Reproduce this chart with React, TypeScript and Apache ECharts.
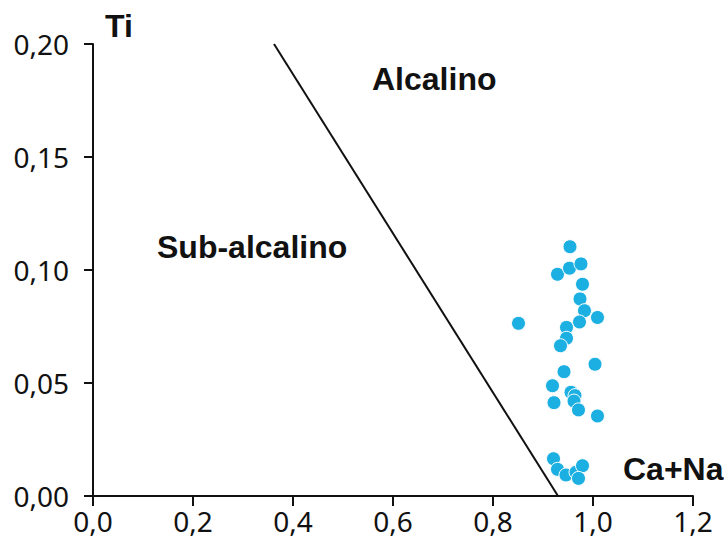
import React, { useEffect, useRef } from "react";
import * as echarts from "echarts";

const caNa = [0.954, 0.929, 0.953, 0.976, 0.979, 0.974, 0.983, 1.009, 0.973, 0.851, 0.947, 0.947, 0.935, 1.004, 0.942, 0.919, 0.956, 0.964, 0.962, 0.922, 0.971, 1.009, 0.921, 0.929, 0.946, 0.966, 0.979, 0.971];
const ti = [0.1103, 0.0981, 0.1008, 0.1027, 0.0937, 0.0872, 0.082, 0.079, 0.077, 0.0764, 0.0746, 0.0698, 0.0665, 0.0583, 0.055, 0.0488, 0.0459, 0.0444, 0.042, 0.0413, 0.0381, 0.0354, 0.0165, 0.0118, 0.0093, 0.0105, 0.0134, 0.0078];
const boundaryX = [0.362, 0.93];
const boundaryY = [0.2, 0.0];
const xTicks = [0, 0.2, 0.4, 0.6, 0.8, 1.0, 1.2];
const yTicks = [0, 0.05, 0.1, 0.15, 0.2];

export default function App() {
  const ref = useRef<HTMLDivElement>(null);
  useEffect(() => {
    if (!ref.current) return;
    const chart = echarts.init(ref.current, null, { renderer: "svg" });
    const labelFont = { fontFamily: "Noto Sans", fontSize: 28, color: "#111" };
    const boldFont = { fontFamily: "Liberation Sans", fontWeight: "bold" as const, fontSize: 32, fill: "#111" };
    chart.setOption({
      animation: false,
      backgroundColor: "#fff",
      grid: { left: 93, right: 31, top: 44, bottom: 62, outerBoundsMode: "none", containLabel: false },
      xAxis: {
        type: "value",
        min: xTicks[0],
        max: xTicks[xTicks.length - 1],
        interval: 0.2,
        splitLine: { show: false },
        axisLine: { show: true, onZero: false, lineStyle: { color: "#111", width: 2 } },
        axisTick: { show: true, length: 10, lineStyle: { color: "#111", width: 2 } },
        axisLabel: { ...labelFont, margin: 11, formatter: (v: number) => v.toFixed(1).replace(".", ",") },
      },
      yAxis: {
        type: "value",
        min: yTicks[0],
        max: yTicks[yTicks.length - 1],
        interval: 0.05,
        splitLine: { show: false },
        axisLine: { show: true, onZero: false, lineStyle: { color: "#111", width: 2 } },
        axisTick: { show: true, length: 9, lineStyle: { color: "#111", width: 2 } },
        axisLabel: { ...labelFont, margin: 24, formatter: (v: number) => v.toFixed(2).replace(".", ",") },
      },
      series: [
        {
          type: "line",
          data: boundaryX.map((x, i) => [x, boundaryY[i]]),
          symbol: "none",
          lineStyle: { color: "#111", width: 2 },
          silent: true,
          z: 1,
        },
        {
          type: "scatter",
          data: caNa.map((x, i) => [x, ti[i]]),
          symbol: "circle",
          symbolSize: 14,
          itemStyle: { color: "#1cb0e2", borderColor: "#fff", borderWidth: 1, opacity: 1 },
          z: 3,
        },
      ],
      graphic: [
        { type: "text", left: 105, top: 10, style: { text: "Ti", ...boldFont } },
        { type: "text", left: 372, top: 63, style: { text: "Alcalino", ...boldFont } },
        { type: "text", left: 157, top: 231, style: { text: "Sub-alcalino", ...boldFont } },
        { type: "text", left: 623, top: 453, style: { text: "Ca+Na", ...boldFont } },
      ],
    });
    return () => chart.dispose();
  }, []);
  return <div ref={ref} style={{ width: 724, height: 558, position: "absolute", left: 0, top: 0 }} />;
}
